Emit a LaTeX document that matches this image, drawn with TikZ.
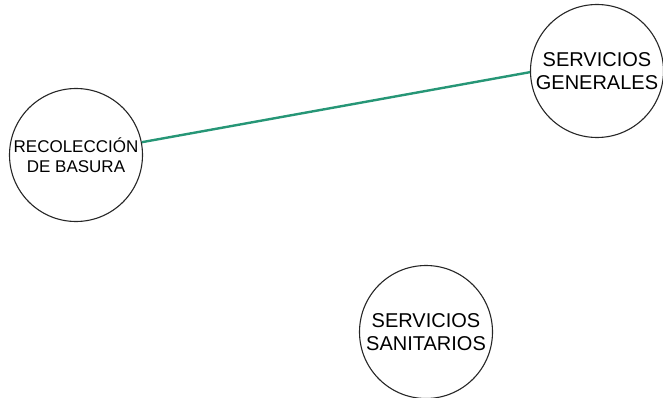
\documentclass[tikz,border=0pt]{standalone}
\usepackage{fontspec}
\setmainfont{Liberation Sans}
\definecolor{edgegreen}{RGB}{38,150,118}
\begin{document}
\begin{tikzpicture}[x=1pt,y=-1pt,
  topic/.style={draw=black!85, line width=1.1pt, circle, minimum size=133pt, inner sep=0pt, align=center, font=\fontsize{20}{23}\selectfont},
  smalltopic/.style={topic, font=\fontsize{17}{20}\selectfont},
  link/.style={draw=edgegreen, line width=2.4pt}]
\useasboundingbox (0,0) rectangle (663,398);
\node[smalltopic] (rec) at (76,155) {RECOLECCIÓN\\DE BASURA};
\node[topic] (gen) at (597,71) {SERVICIOS\\GENERALES};
\node[topic] (san) at (426,332) {SERVICIOS\\SANITARIOS};
\draw[link] (rec.11) -- (gen.181);
\end{tikzpicture}
\end{document}
